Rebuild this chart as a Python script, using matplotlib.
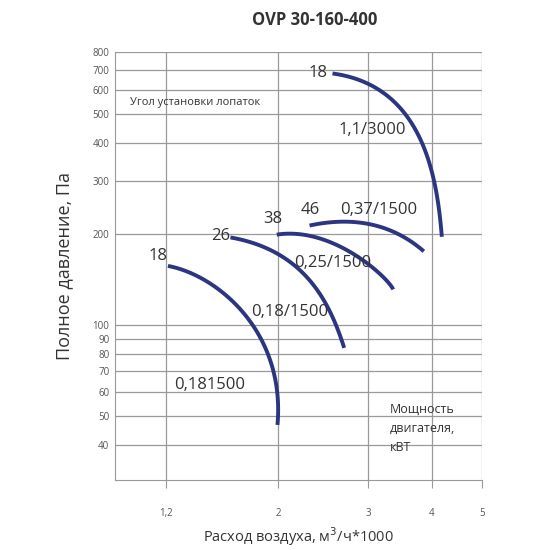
import numpy as np
import matplotlib
matplotlib.use("Agg")
import matplotlib.pyplot as plt

plt.rcParams["font.family"] = ["Open Sans", "DejaVu Sans"]

# blade angle curves: flow (m3/h * 1000) vs total pressure (Pa)
flow_18_low = [1.211, 1.451, 1.623, 1.88, 1.954, 2.0]
pres_18_low = [158, 141, 121, 101, 65.5, 47.3]
flow_26 = [1.657, 2.02, 2.32, 2.61, 2.73]
pres_26 = [195, 170, 142, 108, 84]
flow_38 = [1.99, 2.36, 2.69, 2.97, 3.27, 3.39]
pres_38 = [199, 196, 182, 161, 142, 131]
flow_46 = [2.36, 2.80, 3.39, 3.86]
pres_46 = [213, 219, 205, 175]
flow_18_top = [2.61, 3.14, 3.66, 3.92, 4.10, 4.2]
pres_18_top = [677, 608, 476, 359, 265, 195]

x_ticks = [1.2, 2, 3, 4, 5]
x_tick_labels = ["1,2", "2", "3", "4", "5"]
y_ticks = [40, 50, 60, 70, 80, 90, 100, 200, 300, 400, 500, 600, 700, 800]

# the chart's flow axis is non-uniform; map via piecewise knots
knot_val = np.array([0.8, 1.2, 2, 3, 4, 5, 6])
knot_pos = np.array([96, 166, 278, 368, 432, 482, 532], dtype=float)


def fwd(v):
    return np.interp(v, knot_val, knot_pos)


def inv(p):
    return np.interp(p, knot_pos, knot_val)


fig = plt.figure(figsize=(5.5, 5.5), dpi=100)
ax = fig.add_axes([115 / 550, 70 / 550, 367 / 550, 428 / 550])
ax.set_xscale("function", functions=(fwd, inv))
ax.set_yscale("log")
ax.set_xlim(0.909, 5)
ax.set_ylim(30.6, 800)

navy = "#2b3580"
for fx, py in ((flow_18_low, pres_18_low), (flow_26, pres_26), (flow_38, pres_38),
               (flow_46, pres_46), (flow_18_top, pres_18_top)):
    xs = np.array(fx)
    ys = np.array(py)
    t = np.linspace(0, len(xs) - 1, 80)
    i = np.arange(len(xs))
    deg = min(3, len(xs) - 2) if len(xs) > 3 else 2
    cx = np.polyfit(i, fwd(xs), deg)
    cy = np.polyfit(i, np.log10(ys), deg)
    ax.plot(inv(np.polyval(cx, t)), 10 ** np.polyval(cy, t), color=navy, lw=2.8,
            solid_capstyle="butt")

ax.set_xticks(x_ticks)
ax.set_xticklabels(x_tick_labels, fontsize=7, color="#555555")
ax.xaxis.set_minor_locator(matplotlib.ticker.NullLocator())
ax.set_yticks(y_ticks)
ax.set_yticklabels([str(v) for v in y_ticks], fontsize=7, color="#555555")
ax.yaxis.set_minor_locator(matplotlib.ticker.NullLocator())
ax.tick_params(axis="x", length=6, color="#999999", pad=14)
ax.tick_params(axis="y", length=0, pad=4)
ax.grid(True, color="#999999", lw=0.9)
for s in ("top", "right"):
    ax.spines[s].set_visible(False)
for s in ("left", "bottom"):
    ax.spines[s].set_color("#999999")

tc = "#333333"
labels = [
    ("18", 2.44, 680), ("1,1/3000", 3.06, 441), ("46", 2.36, 239),
    ("0,37/1500", 3.16, 239), ("38", 1.96, 224), ("26", 1.59, 196),
    ("0,25/1500", 2.61, 160), ("18", 1.154, 169), ("0,18/1500", 2.13, 110),
    ("0,181500", 1.509, 63),
]
for txt, x, y in labels:
    ax.text(x, y, txt, fontsize=12, color=tc, ha="center", va="center")
ax.text(0.994, 543, "Угол установки лопаток", fontsize=8, color=tc, va="center")
ax.text(3.34, 55, "Мощность\nдвигателя,\nкВТ", fontsize=9, color=tc, va="top",
        linespacing=1.6)

ax.set_ylabel("Полное давление, Па", fontsize=13, color=tc, labelpad=14)
ax.set_xlabel("Расход воздуха, м$^3$/ч*1000", fontsize=10.5, color=tc, labelpad=5)
fig.text(315 / 550, 1 - 20 / 550, "OVP 30-160-400", fontsize=12, fontweight="bold",
         color=tc, ha="center", va="center")

fig.savefig("out.png", dpi=100)
